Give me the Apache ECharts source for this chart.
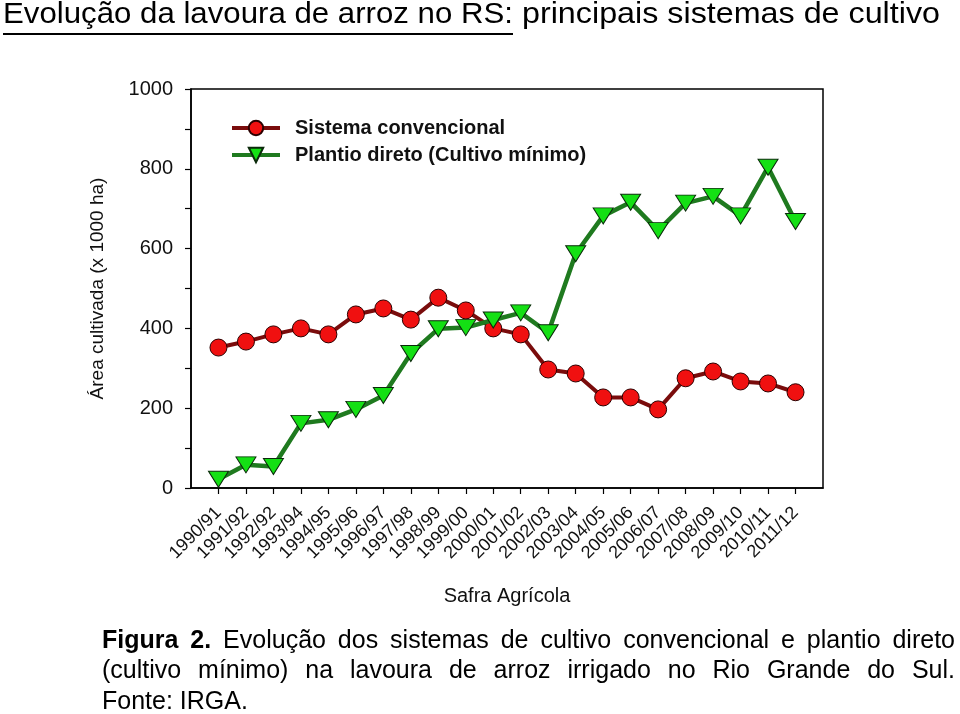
<!DOCTYPE html>
<html>
<head>
<meta charset="utf-8">
<script src="https://cdn.jsdelivr.net/npm/echarts@6/dist/echarts.min.js"></script>
<style>
html,body{margin:0;padding:0;background:#fff;}
#chart{width:960px;height:714px;}
</style>
</head>
<body>
<div id="chart"></div>
<script>
const categories = ['1990/91','1991/92','1992/92','1993/94','1994/95','1995/96','1996/97','1997/98','1998/99','1999/00','2000/01','2001/02','2002/03','2003/04','2004/05','2005/06','2006/07','2007/08','2008/09','2009/10','2010/11','2011/12'];
const convencional = [352,367,385,400,385,435,450,422,477,445,400,385,297,287,227,227,197,275,292,267,262,240];
const plantioDireto = [22,58,54,162,171,197,232,337,399,402,421,439,389,587,682,716,645,714,731,682,804,668];
const yTicks = [0,200,400,600,800,1000];

const titleUnderlined = 'Evolução da lavoura de arroz no RS:';
const titleRest = 'principais sistemas de cultivo';
const captionLines = [
  [['Figura', true], ['2.', true], ['Evolução', false], ['dos', false], ['sistemas', false], ['de', false], ['cultivo', false], ['convencional', false], ['e', false], ['plantio', false], ['direto', false]],
  [['(cultivo', false], ['mínimo)', false], ['na', false], ['lavoura', false], ['de', false], ['arroz', false], ['irrigado', false], ['no', false], ['Rio', false], ['Grande', false], ['do', false], ['Sul.', false]]
];
const captionLast = 'Fonte: IRGA.';

const FF = '"Liberation Sans", Arial, Helvetica, sans-serif';
const mctx = document.createElement('canvas').getContext('2d');
function measure(text, size, bold) {
  mctx.font = (bold ? 'bold ' : '') + size + 'px ' + FF;
  return mctx.measureText(text).width;
}

const graphics = [];
// Title
const tSize = 29;
const w1 = measure(titleUnderlined, tSize, false);
const w2 = measure(titleRest, tSize, false);
graphics.push({type:'text', x:3, y:15, scaleX:(513-3)/w1, style:{text:titleUnderlined, fontSize:tSize, fontFamily:FF, fill:'#000', align:'left', verticalAlign:'middle'}});
graphics.push({type:'text', x:522, y:15, scaleX:(940-522)/w2, style:{text:titleRest, fontSize:tSize, fontFamily:FF, fill:'#000', align:'left', verticalAlign:'middle'}});
graphics.push({type:'line', shape:{x1:3, y1:34, x2:513, y2:34}, style:{stroke:'#000', lineWidth:2}});

// Caption
const cSize = 25;
const cx0 = 102, cx1 = 955;
const cY = [641, 671];
captionLines.forEach((words, li) => {
  const widths = words.map(w => measure(w[0], cSize, w[1]));
  const total = widths.reduce((a,b)=>a+b,0);
  const gap = (cx1 - cx0 - total) / (words.length - 1);
  let x = cx0;
  words.forEach((w, i) => {
    graphics.push({type:'text', x:x, y:cY[li], style:{text:w[0], fontSize:cSize, fontFamily:FF, fontWeight:w[1]?'bold':'normal', fill:'#000', align:'left', verticalAlign:'middle'}});
    x += widths[i] + gap;
  });
});
graphics.push({type:'text', x:cx0, y:702, style:{text:captionLast, fontSize:cSize, fontFamily:FF, fill:'#000', align:'left', verticalAlign:'middle'}});

const axisData = [''].concat(categories, ['']);
const chart = echarts.init(document.getElementById('chart'), null, {renderer:'canvas'});
chart.setOption({
  animation:false,
  backgroundColor:'#fff',
  graphic: graphics,
  grid:{left:191, right:137, top:89, bottom:226, show:true, borderColor:'#000', borderWidth:1.5, backgroundColor:'transparent'},
  legend:{
    orient:'vertical', left:230, top:118, padding:0, itemWidth:48, itemHeight:18, itemGap:7,
    textStyle:{fontSize:20, fontWeight:'bold', color:'#111', fontFamily:FF, padding:[0,0,0,10]},
    lineStyle:{width:4},
    data:['Sistema convencional','Plantio direto (Cultivo mínimo)']
  },
  xAxis:{
    type:'category', data:axisData, boundaryGap:false,
    name:'Safra Agrícola', nameLocation:'middle', nameGap:98,
    nameTextStyle:{fontSize:20, color:'#111', fontFamily:FF},
    axisLine:{lineStyle:{color:'#000', width:1.5}},
    axisTick:{show:true, inside:false, length:6, lineStyle:{color:'#000', width:1.2}, interval:function(i){return i>0 && i<axisData.length-1;}},
    axisLabel:{interval:0, rotate:45, margin:22, fontSize:18, color:'#111', fontFamily:FF},
    splitLine:{show:false}
  },
  yAxis:{
    type:'value', min:0, max:1000, interval:100,
    name:'Área cultivada (x 1000 ha)', nameLocation:'middle', nameGap:84,
    nameTextStyle:{fontSize:19, color:'#111', fontFamily:FF},
    axisLine:{show:true, lineStyle:{color:'#000', width:1.5}},
    axisTick:{show:true, inside:false, length:6, lineStyle:{color:'#000', width:1.2}},
    axisLabel:{margin:18, fontSize:20, color:'#111', fontFamily:FF, formatter:function(v){return yTicks.indexOf(v)>=0 ? String(v) : '';}},
    splitLine:{show:false}
  },
  series:[
    {
      name:'Sistema convencional', type:'line',
      data: categories.map((c,i)=>[c, convencional[i]]),
      symbol:'circle', symbolSize:17,
      lineStyle:{color:'#7a0c0c', width:4},
      itemStyle:{color:'#f01010', borderColor:'#2a0000', borderWidth:1},
      z:3
    },
    {
      name:'Plantio direto (Cultivo mínimo)', type:'line',
      data: categories.map((c,i)=>[c, plantioDireto[i]]),
      symbol:'triangle', symbolRotate:180, symbolSize:[20,16],
      lineStyle:{color:'#1f7a1f', width:4.5},
      itemStyle:{color:'#14e014', borderColor:'#0a2a0a', borderWidth:1},
      z:4
    }
  ]
});
</script>
</body>
</html>
